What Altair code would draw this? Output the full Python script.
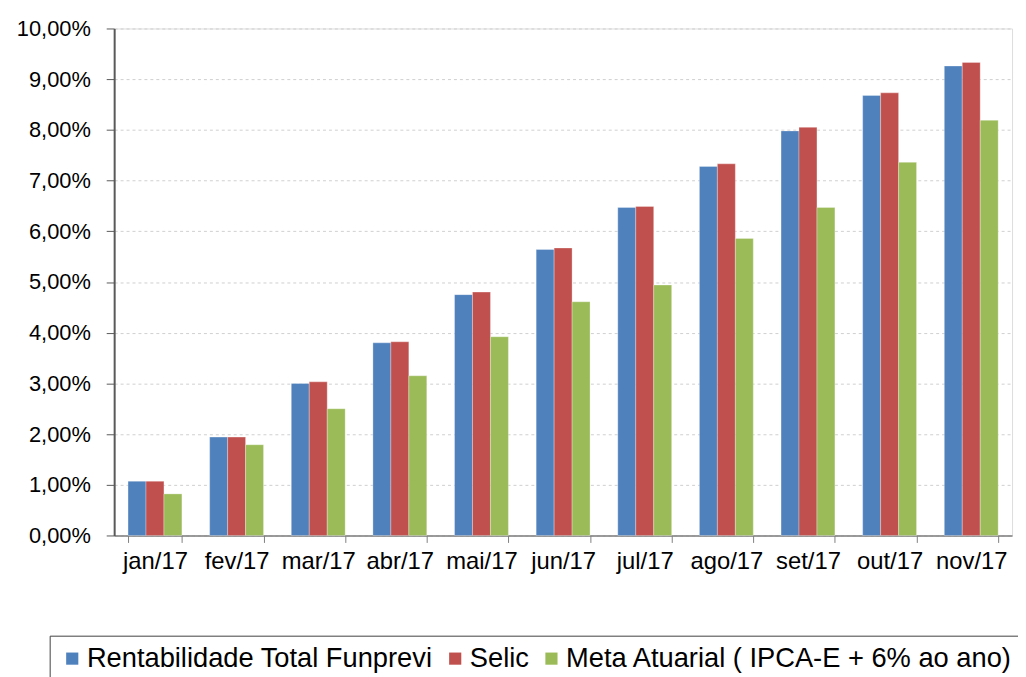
import altair as alt
import pandas as pd

months = ["jan/17", "fev/17", "mar/17", "abr/17", "mai/17", "jun/17",
          "jul/17", "ago/17", "set/17", "out/17", "nov/17"]
series = ["Rentabilidade Total Funprevi", "Selic", "Meta Atuarial ( IPCA-E + 6% ao ano)"]
funprevi = [1.07, 1.94, 3.00, 3.80, 4.75, 5.64, 6.47, 7.28, 7.98, 8.68, 9.26]
selic = [1.07, 1.94, 3.03, 3.82, 4.80, 5.67, 6.49, 7.33, 8.05, 8.73, 9.33]
meta = [0.82, 1.79, 2.50, 3.15, 3.92, 4.61, 4.94, 5.86, 6.47, 7.36, 8.19]
colors = ["#4F81BD", "#C0504D", "#9BBB59"]

rows = []
for name, vals in zip(series, [funprevi, selic, meta]):
    for m, v in zip(months, vals):
        rows.append({"mes": m, "serie": name, "valor": v})
df = pd.DataFrame(rows)

font = "Liberation Sans"

chart = alt.Chart(df).mark_bar(stroke="#ffffff", strokeWidth=0.5, strokeOpacity=0.6).encode(
    x=alt.X("mes:N", sort=months, title=None,
            scale=alt.Scale(paddingInner=0.34, paddingOuter=0.17),
            axis=alt.Axis(labelAngle=0, tickBand="extent", tickSize=7, labelPadding=7,
                          labelFontSize=24, labelFont=font, labelColor="#000000",
                          domainColor="#7f7f7f", tickColor="#7f7f7f", domainWidth=1.5,
                          grid=False)),
    xOffset=alt.XOffset("serie:N", sort=series, scale=alt.Scale(paddingInner=0, paddingOuter=0)),
    y=alt.Y("valor:Q", title=None,
            scale=alt.Scale(domain=[0, 10], nice=False),
            axis=alt.Axis(values=list(range(0, 11)),
                          labelExpr="replace(format(datum.value, '.2f'), '.', ',') + '%'",
                          tickSize=8, labelPadding=16, labelFontSize=22, labelFont=font,
                          labelColor="#000000", domainColor="#595959", tickColor="#595959",
                          domainWidth=2, grid=True, gridDash=[3, 3], gridColor="#cfcfcf")),
    color=alt.Color("serie:N", sort=series,
                    scale=alt.Scale(domain=series, range=colors),
                    legend=alt.Legend(title=None, orient="none", direction="horizontal",
                                      legendX=-65, legendY=612,
                                      symbolType="square", symbolSize=150,
                                      symbolStrokeWidth=0,
                                      labelFontSize=27.5, labelFont=font, labelColor="#000000",
                                      labelLimit=700, columnPadding=8, labelOffset=1,
                                      strokeColor="#404040", padding=9,
                                      fillColor="#ffffff")),
).properties(
    width=905, height=511,
    autosize=alt.AutoSizeParams(type="none"),
    padding={"left": 107, "top": 18, "right": 6, "bottom": 140},
).configure_view(
    stroke="#8c8c8c", strokeWidth=1.5
).configure(background="#ffffff")

chart.save("out.html", embed_options={"renderer": "svg", "actions": False})
